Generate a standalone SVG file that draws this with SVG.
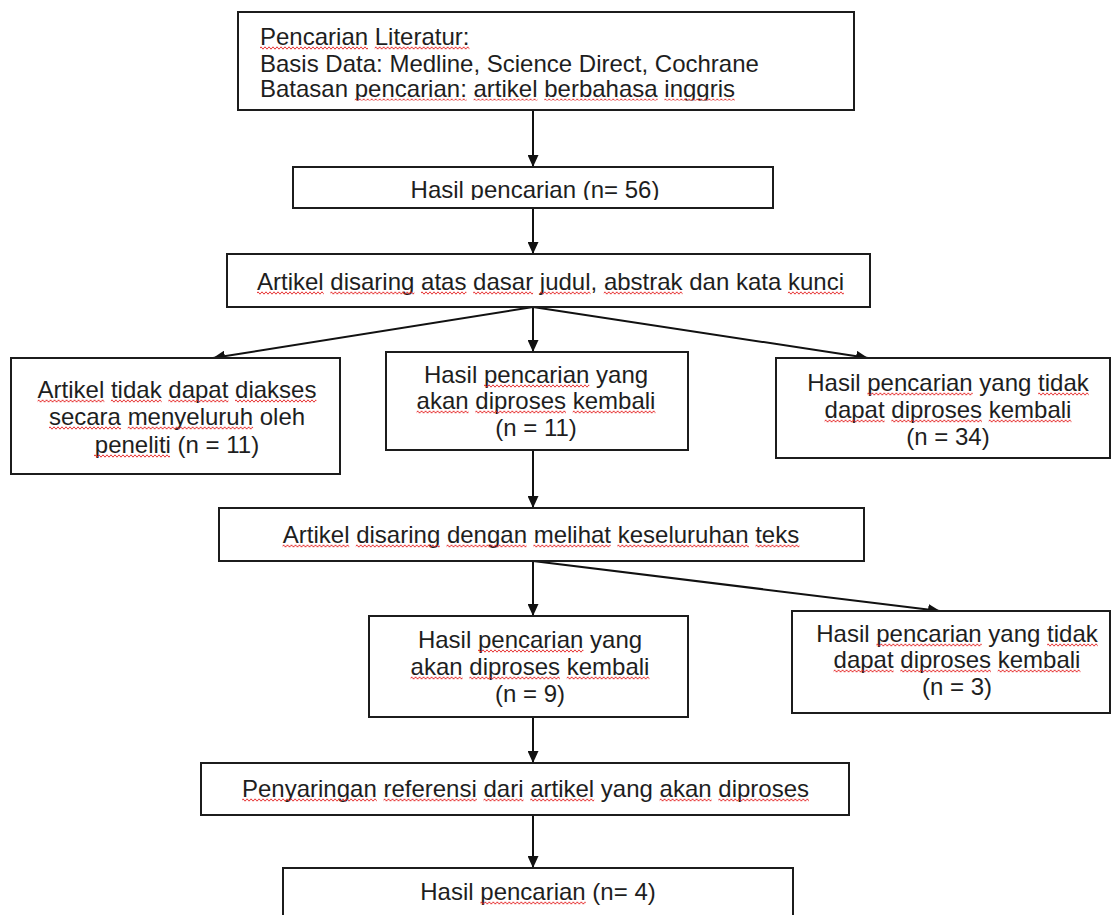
<svg xmlns="http://www.w3.org/2000/svg" width="1111" height="915" viewBox="0 0 1111 915">
<style>
.box{fill:#fff;stroke:#1c1c1c;stroke-width:2}
.t{font-family:"Liberation Sans",Arial,Helvetica,sans-serif;font-size:24px;fill:#1e1e1e}
.c{text-anchor:middle}
.w{fill:url(#wv)}
.ln{stroke:#111;stroke-width:2;fill:none;marker-end:url(#ah)}
</style>
<defs>
<marker id="ah" viewBox="0 0 12 11" refX="12" refY="5.5" markerWidth="12" markerHeight="11" markerUnits="userSpaceOnUse" orient="auto">
<path d="M0,0 L12,5.5 L0,11 z" fill="#111"/>
</marker>
<pattern id="wv" width="4" height="4" patternUnits="userSpaceOnUse">
<path d="M-1,3.2 L1,0.8 L3,3.2 L5,0.8" fill="none" stroke="#e31c1c" stroke-width="0.9"/>
</pattern>
<clipPath id="clipN2"><rect x="293" y="167" width="480" height="33"/></clipPath>
<clipPath id="clipN1"><rect x="238" y="76" width="616" height="24.5"/></clipPath>
</defs>
<rect width="1111" height="915" fill="#fff"/>
<g id="connectors">
<line class="ln" x1="533" y1="110" x2="533" y2="167"/>
<line class="ln" x1="533" y1="208" x2="533" y2="254"/>
<line class="ln" x1="533" y1="307" x2="213" y2="358"/>
<line class="ln" x1="533" y1="307" x2="533" y2="352"/>
<line class="ln" x1="533" y1="307" x2="868" y2="358"/>
<line class="ln" x1="533" y1="450" x2="533" y2="508"/>
<line class="ln" x1="533" y1="561" x2="533" y2="616"/>
<line class="ln" x1="533" y1="561" x2="940" y2="611"/>
<line class="ln" x1="533" y1="717" x2="533" y2="763"/>
<line class="ln" x1="533" y1="815" x2="533" y2="868"/>
</g>
<g id="n1">
<rect class="box" x="238" y="12" width="616" height="98"/>
<text class="t" x="260" y="45"><tspan>Pencarian</tspan> <tspan>Literatur:</tspan></text>
<rect class="w" transform="translate(260,46)" width="108" height="4"/>
<rect class="w" transform="translate(374.7,46)" width="94.7" height="4"/>
<text class="t" x="260" y="72">Basis Data: Medline, Science Direct, Cochrane</text>
<g clip-path="url(#clipN1)">
<text class="t" x="260" y="97">Batasan <tspan>pencarian:</tspan> <tspan>artikel</tspan> <tspan>berbahasa</tspan> <tspan>inggris</tspan></text>
<rect class="w" transform="translate(354.7,98)" width="112.1" height="4"/>
<rect class="w" transform="translate(473.5,98)" width="64" height="4"/>
<rect class="w" transform="translate(544.2,98)" width="113.4" height="4"/>
<rect class="w" transform="translate(664.3,98)" width="70.7" height="4"/>
</g>
</g>
<g id="n2">
<rect class="box" x="293" y="167" width="480" height="41"/>
<text class="t c" x="535" y="198" clip-path="url(#clipN2)">Hasil pencarian (n= 56)</text>
</g>
<g id="n3">
<rect class="box" x="227" y="254" width="643" height="53"/>
<text class="t c" x="550.5" y="290"><tspan>Artikel</tspan> <tspan>disaring</tspan> <tspan>atas</tspan> <tspan>dasar</tspan> <tspan>judul</tspan>, <tspan>abstrak</tspan> dan kata <tspan>kunci</tspan></text>
<rect class="w" transform="translate(257,291)" width="66.7" height="4"/>
<rect class="w" transform="translate(330.3,291)" width="84.1" height="4"/>
<rect class="w" transform="translate(421,291)" width="45.4" height="4"/>
<rect class="w" transform="translate(473.1,291)" width="60" height="4"/>
<rect class="w" transform="translate(539.8,291)" width="50.7" height="4"/>
<rect class="w" transform="translate(603.8,291)" width="78.7" height="4"/>
<rect class="w" transform="translate(787.9,291)" width="56" height="4"/>
</g>
<g id="n4">
<rect class="box" x="11" y="358" width="329" height="116"/>
<text class="t c" x="177" y="398"><tspan>Artikel</tspan> <tspan>tidak</tspan> <tspan>dapat</tspan> <tspan>diakses</tspan></text>
<text class="t c" x="177" y="425"><tspan>secara</tspan> <tspan>menyeluruh</tspan> oleh</text>
<text class="t c" x="177" y="453"><tspan>peneliti</tspan> (n = 11)</text>
<rect class="w" transform="translate(37.6,399)" width="66.7" height="4"/>
<rect class="w" transform="translate(110.9,399)" width="50.7" height="4"/>
<rect class="w" transform="translate(168.3,399)" width="60.1" height="4"/>
<rect class="w" transform="translate(235,399)" width="81.4" height="4"/>
<rect class="w" transform="translate(49,426)" width="72" height="4"/>
<rect class="w" transform="translate(127.7,426)" width="125.4" height="4"/>
<rect class="w" transform="translate(94,454)" width="76" height="4"/>
</g>
<g id="n5">
<rect class="box" x="386" y="352" width="302" height="98"/>
<text class="t c" x="536" y="383">Hasil <tspan>pencarian</tspan> yang</text>
<text class="t c" x="536" y="409"><tspan>akan</tspan> <tspan>diproses</tspan> <tspan>kembali</tspan></text>
<text class="t c" x="536" y="436">(n = 11)</text>
<rect class="w" transform="translate(484,384)" width="105.3" height="4"/>
<rect class="w" transform="translate(416.6,410)" width="52" height="4"/>
<rect class="w" transform="translate(475.3,410)" width="90.7" height="4"/>
<rect class="w" transform="translate(572.7,410)" width="82.7" height="4"/>
</g>
<g id="n6">
<rect class="box" x="776" y="358" width="334" height="100"/>
<text class="t c" x="948" y="391">Hasil <tspan>pencarian</tspan> yang <tspan>tidak</tspan></text>
<text class="t c" x="948" y="418"><tspan>dapat</tspan> <tspan>diproses</tspan> <tspan>kembali</tspan></text>
<text class="t c" x="948" y="445">(n = 34)</text>
<rect class="w" transform="translate(867.3,392)" width="105.4" height="4"/>
<rect class="w" transform="translate(1038.1,392)" width="50.6" height="4"/>
<rect class="w" transform="translate(824.6,419)" width="60" height="4"/>
<rect class="w" transform="translate(891.3,419)" width="90.7" height="4"/>
<rect class="w" transform="translate(988.7,419)" width="82.7" height="4"/>
</g>
<g id="n7">
<rect class="box" x="219" y="508" width="645" height="53"/>
<text class="t c" x="541" y="543"><tspan>Artikel</tspan> <tspan>disaring</tspan> <tspan>dengan</tspan> <tspan>melihat</tspan> <tspan>keseluruhan</tspan> <tspan>teks</tspan></text>
<rect class="w" transform="translate(282.5,544)" width="66.7" height="4"/>
<rect class="w" transform="translate(355.8,544)" width="84.1" height="4"/>
<rect class="w" transform="translate(446.5,544)" width="80.1" height="4"/>
<rect class="w" transform="translate(533.3,544)" width="77.3" height="4"/>
<rect class="w" transform="translate(617.3,544)" width="131.5" height="4"/>
<rect class="w" transform="translate(755.5,544)" width="44" height="4"/>
</g>
<g id="n8">
<rect class="box" x="369" y="616" width="319" height="101"/>
<text class="t c" x="530" y="648">Hasil <tspan>pencarian</tspan> yang</text>
<text class="t c" x="530" y="675"><tspan>akan</tspan> <tspan>diproses</tspan> <tspan>kembali</tspan></text>
<text class="t c" x="530" y="702">(n = 9)</text>
<rect class="w" transform="translate(478,649)" width="105.4" height="4"/>
<rect class="w" transform="translate(410.6,676)" width="52" height="4"/>
<rect class="w" transform="translate(469.3,676)" width="90.7" height="4"/>
<rect class="w" transform="translate(566.7,676)" width="82.7" height="4"/>
</g>
<g id="n9">
<rect class="box" x="792" y="611" width="318" height="102"/>
<text class="t c" x="957" y="642">Hasil <tspan>pencarian</tspan> yang <tspan>tidak</tspan></text>
<text class="t c" x="957" y="668"><tspan>dapat</tspan> <tspan>diproses</tspan> <tspan>kembali</tspan></text>
<text class="t c" x="957" y="695">(n = 3)</text>
<rect class="w" transform="translate(876.3,643)" width="105.4" height="4"/>
<rect class="w" transform="translate(1047.1,643)" width="50.6" height="4"/>
<rect class="w" transform="translate(833.6,669)" width="60" height="4"/>
<rect class="w" transform="translate(900.3,669)" width="90.7" height="4"/>
<rect class="w" transform="translate(997.7,669)" width="82.7" height="4"/>
</g>
<g id="n10">
<rect class="box" x="201" y="763" width="648" height="52"/>
<text class="t c" x="525.5" y="797"><tspan>Penyaringan</tspan> <tspan>referensi</tspan> <tspan>dari</tspan> <tspan>artikel</tspan> yang <tspan>akan</tspan> <tspan>diproses</tspan></text>
<rect class="w" transform="translate(242.1,798)" width="134.7" height="4"/>
<rect class="w" transform="translate(383.5,798)" width="93.3" height="4"/>
<rect class="w" transform="translate(483.5,798)" width="40" height="4"/>
<rect class="w" transform="translate(530.2,798)" width="64" height="4"/>
<rect class="w" transform="translate(659.6,798)" width="52" height="4"/>
<rect class="w" transform="translate(718.3,798)" width="90.7" height="4"/>
</g>
<g id="n11">
<rect class="box" x="283" y="868" width="510" height="60"/>
<text class="t c" x="538" y="900">Hasil <tspan>pencarian</tspan> (n= 4)</text>
<rect class="w" transform="translate(480.3,901)" width="105.4" height="4"/>
</g>
</svg>
